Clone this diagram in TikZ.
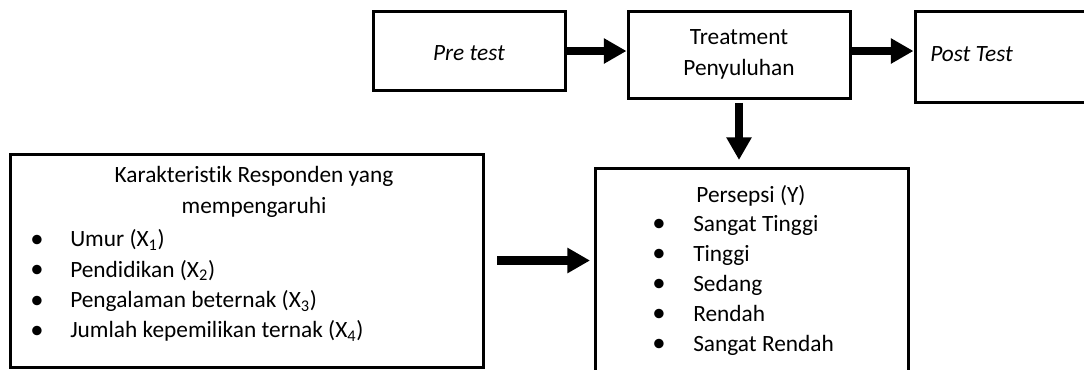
\documentclass[tikz,border=0pt]{standalone}
\usepackage{fontspec}
\setmainfont{Carlito}[Ligatures=NoCommon]
\usetikzlibrary{arrows.meta}

\begin{document}
\begin{tikzpicture}[x=0.75pt, y=-0.75pt,
  kotak/.style={draw, line width=2.25pt, inner sep=0pt},
  teks/.style={font=\fontsize{17.5}{23.25}\selectfont, inner sep=0pt},
  titik/.style={font=\fontsize{20}{20}\selectfont, inner sep=0pt},
  panah/.style={line width=6.5pt, -{Triangle[length=17pt,width=18pt]}}]

\useasboundingbox (0,0) rectangle (1084,369);
\clip (0,0) rectangle (1084,369);

% baris atas
\node[kotak, minimum width=144pt, minimum height=58.9pt] (pretest) at (469,51) {};
\node[teks] (pretxt) at (469,53) {\itshape Pre test};
\node[kotak, teks, align=center, minimum width=166.5pt, minimum height=65.25pt] (treat) at (739,54.5) {Treatment\\Penyuluhan};
\node[kotak, minimum width=153.75pt, minimum height=68.25pt] (posttest) at (1017.5,56.5) {};
\node[teks, anchor=mid west] (posttxt) at (930,58) {\itshape Post Test};

% karakteristik responden
\node[kotak, minimum width=354.75pt, minimum height=159.75pt] (karak) at (246.5,260.5) {};
\node[teks] (karak1) at (254,176) {Karakteristik Responden yang};
\node[teks] (karak2) at (254,207) {mempengaruhi};
\foreach \isi [count=\i] in {{Umur (X\textsubscript{1})}, {Pendidikan (X\textsubscript{2})}, {Pengalaman beternak (X\textsubscript{3})}, {Jumlah kepemilikan ternak (X\textsubscript{4})}} {
\node[titik] (kb\i) at (37,211+30.3*\i) {•};
\node[teks, anchor=mid west] (kx\i) at (70,213.5+30.3*\i) {\isi};
}

% persepsi
\node[kotak, minimum width=234.75pt, minimum height=166.5pt] (persepsi) at (751.5,279) {};
\node[teks] (persepsi0) at (751,196) {Persepsi (Y)};
\foreach \isi [count=\i] in {Sangat Tinggi, Tinggi, Sedang, Rendah, Sangat Rendah} {
\node[titik] (pb\i) at (659,195.5+30*\i) {•};
\node[teks, anchor=mid west] (px\i) at (693,198+30*\i) {\isi};
}

% panah
\draw[panah] (pretest.east) -- (pretest.east -| treat.west);
\draw[panah] (treat.east |- pretest.east) -- (posttest.west |- pretest.east);
\draw[panah, shorten <=2.6pt, shorten >=4.9pt] (treat.south) -- (treat.south |- persepsi.north);
\draw[panah, shorten <=9.4pt, shorten >=2.6pt] (karak.east) -- (karak.east -| persepsi.west);

\end{tikzpicture}
\end{document}
